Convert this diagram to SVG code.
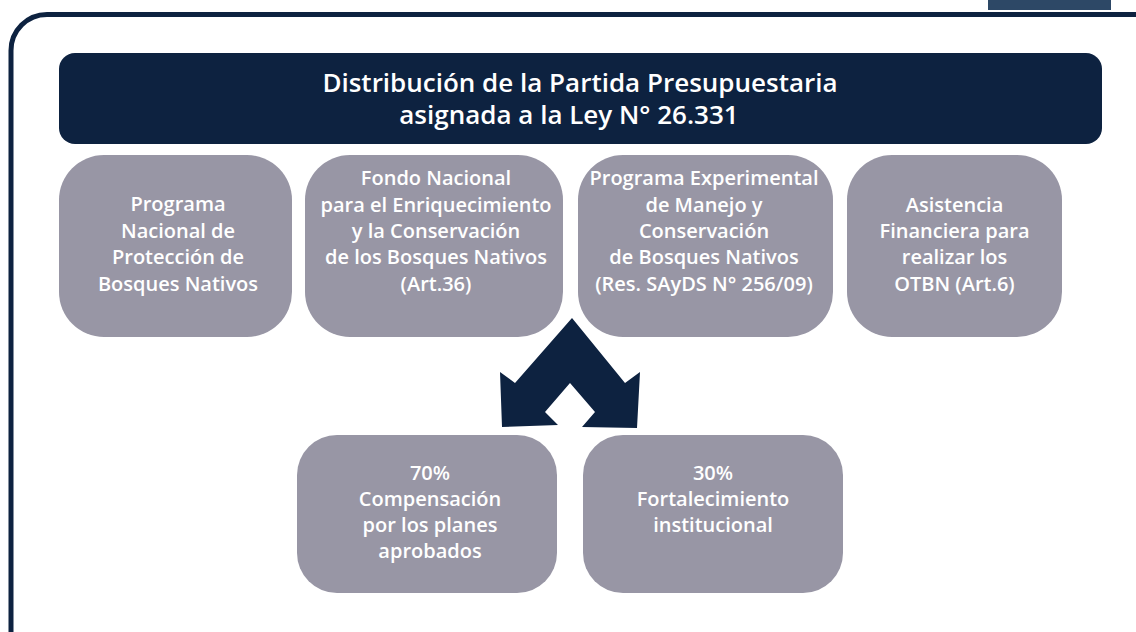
<svg xmlns="http://www.w3.org/2000/svg" width="1136" height="632" viewBox="0 0 1136 632">
  <style>
    .frame { fill: none; stroke: #0d2240; stroke-width: 5; }
    .title { fill: #0d2240; }
    .box { fill: #9896a5; }
    .arrow { fill: #0d2240; }
    .tab { fill: #2d4866; }
    text { font-family: "Open Sans", "Liberation Sans", sans-serif; fill: #ffffff; text-anchor: middle; }
    .t1 { font-size: 26px; font-weight: 600; }
    .t2 { font-size: 20px; font-weight: 600; }
  </style>
  <rect width="1136" height="632" fill="#ffffff"/>
  <rect class="tab" x="988" y="-2" width="123" height="12"/>
  <rect class="frame" x="11" y="14.5" width="1160" height="660" rx="36" ry="36"/>

  <g id="title">
    <rect class="title" x="59" y="53" width="1043" height="91" rx="16" ry="16"/>
    <text class="t1"><tspan x="580" y="92">Distribución de la Partida Presupuestaria</tspan><tspan x="569" y="124">asignada a la Ley N° 26.331</tspan></text>
  </g>

  <g id="connectors">
    <path class="arrow" d="M572,318 L625,383 L640,372 L637,428 L582,427 L595,412 L570,383 L545,412 L558,425 L502,427 L500,372 L515,383 Z"/>
  </g>

  <g id="node1">
    <rect class="box" x="59" y="155" width="233" height="182" rx="45" ry="45"/>
    <text class="t2"><tspan x="178" y="211">Programa</tspan><tspan x="178" y="238">Nacional de</tspan><tspan x="178" y="264">Protección de</tspan><tspan x="178" y="291">Bosques Nativos</tspan></text>
  </g>

  <g id="node2">
    <rect class="box" x="305" y="155" width="258" height="182" rx="45" ry="45"/>
    <text class="t2"><tspan x="436" y="185">Fondo Nacional</tspan><tspan x="436" y="212">para el Enriquecimiento</tspan><tspan x="436" y="238">y la Conservación</tspan><tspan x="436" y="264">de los Bosques Nativos</tspan><tspan x="436" y="291">(Art.36)</tspan></text>
  </g>

  <g id="node3">
    <rect class="box" x="578" y="155" width="255" height="182" rx="45" ry="45"/>
    <text class="t2"><tspan x="704" y="185">Programa Experimental</tspan><tspan x="704" y="212">de Manejo y</tspan><tspan x="704" y="238">Conservación</tspan><tspan x="704" y="264">de Bosques Nativos</tspan><tspan x="704" y="291">(Res. SAyDS N° 256/09)</tspan></text>
  </g>

  <g id="node4">
    <rect class="box" x="847" y="155" width="215" height="182" rx="45" ry="45"/>
    <text class="t2"><tspan x="954.5" y="212">Asistencia</tspan><tspan x="954.5" y="238">Financiera para</tspan><tspan x="954.5" y="264">realizar los</tspan><tspan x="954.5" y="291">OTBN (Art.6)</tspan></text>
  </g>

  <g id="node5">
    <rect class="box" x="297" y="435" width="260" height="158" rx="40" ry="40"/>
    <text class="t2"><tspan x="430" y="480">70%</tspan><tspan x="430" y="506">Compensación</tspan><tspan x="430" y="532">por los planes</tspan><tspan x="430" y="558">aprobados</tspan></text>
  </g>

  <g id="node6">
    <rect class="box" x="583" y="435" width="260" height="158" rx="40" ry="40"/>
    <text class="t2"><tspan x="713" y="480">30%</tspan><tspan x="713" y="506">Fortalecimiento</tspan><tspan x="713" y="532">institucional</tspan></text>
  </g>
</svg>
